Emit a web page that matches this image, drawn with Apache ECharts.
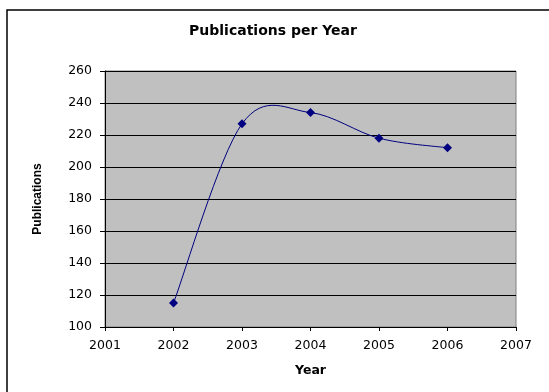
<!DOCTYPE html>
<html>
<head>
<meta charset="utf-8">
<script src="https://cdn.jsdelivr.net/npm/echarts@6/dist/echarts.min.js"></script>
<style>
  html, body { margin: 0; padding: 0; background: #fff; }
  #chart { width: 549px; height: 392px; }
</style>
</head>
<body>
<div id="chart"></div>
<script>
// Publications counted per year
const years = [2002, 2003, 2004, 2005, 2006];
const publications = [115, 227, 234, 218, 212];

const chart = echarts.init(document.getElementById('chart'));
const wide = '"DejaVu Sans", Verdana, sans-serif';
const narrow = 'Arial, "Liberation Sans", sans-serif';
const lineColor = '#000080';

// Smoothed curve: cubic Bezier segments with Catmull-Rom style tangents in pixel space
function renderCurve(params, api) {
  const i = params.dataIndex;
  if (i >= years.length - 1) return null;
  const pt = k => {
    const j = Math.max(0, Math.min(years.length - 1, k));
    return api.coord([years[j], publications[j]]);
  };
  const p0 = pt(i - 1), p1 = pt(i), p2 = pt(i + 1), p3 = pt(i + 2);
  return {
    type: 'bezierCurve',
    shape: {
      x1: p1[0], y1: p1[1],
      cpx1: p1[0] + (p2[0] - p0[0]) / 6, cpy1: p1[1] + (p2[1] - p0[1]) / 6,
      cpx2: p2[0] - (p3[0] - p1[0]) / 6, cpy2: p2[1] - (p3[1] - p1[1]) / 6,
      x2: p2[0], y2: p2[1]
    },
    style: { fill: 'none', stroke: lineColor, lineWidth: 1 }
  };
}

chart.setOption({
  backgroundColor: '#ffffff',
  animation: false,
  title: {
    text: 'Publications per Year',
    left: 268, top: 19, textAlign: 'center',
    textStyle: { fontFamily: wide, fontSize: 14, fontWeight: 'bold', color: '#000' }
  },
  graphic: [{
    type: 'rect', z: -1,
    shape: { x: 7, y: 10, width: 560, height: 400 },
    style: { fill: 'none', stroke: '#000', lineWidth: 1.5 }
  }],
  grid: {
    left: 105, right: 33, top: 71, bottom: 65,
    show: true, backgroundColor: '#c0c0c0', borderColor: '#808080', borderWidth: 1
  },
  xAxis: {
    type: 'value', min: 2001, max: 2007, interval: 1,
    name: 'Year', nameLocation: 'middle', nameGap: 37,
    nameTextStyle: { fontFamily: wide, fontSize: 12.5, fontWeight: 'bold', color: '#000' },
    axisLine: { lineStyle: { color: '#000' } },
    axisTick: { show: true, length: 4, lineStyle: { color: '#000' } },
    axisLabel: { fontFamily: wide, fontSize: 12.5, color: '#000', margin: 12, formatter: v => String(v) },
    splitLine: { show: false }
  },
  yAxis: {
    type: 'value', min: 100, max: 260, interval: 20,
    name: 'Publications', nameLocation: 'middle', nameGap: 61, nameRotate: 90,
    nameTextStyle: { fontFamily: narrow, fontSize: 12, fontWeight: 'bold', color: '#000' },
    axisLine: { show: true, lineStyle: { color: '#000' } },
    axisTick: { show: true, length: 5, lineStyle: { color: '#000' } },
    axisLabel: { fontFamily: wide, fontSize: 12.5, color: '#000', margin: 13 },
    splitLine: { show: true, lineStyle: { color: '#000', width: 1 } }
  },
  series: [
    {
      type: 'custom',
      renderItem: renderCurve,
      data: years.map((y, i) => [y, publications[i]]),
      clip: false,
      z: 2
    },
    {
      type: 'line',
      data: years.map((y, i) => [y, publications[i]]),
      symbol: 'diamond', symbolSize: 9,
      itemStyle: { color: lineColor },
      lineStyle: { width: 0, opacity: 0 },
      z: 3
    }
  ]
});
</script>
</body>
</html>
